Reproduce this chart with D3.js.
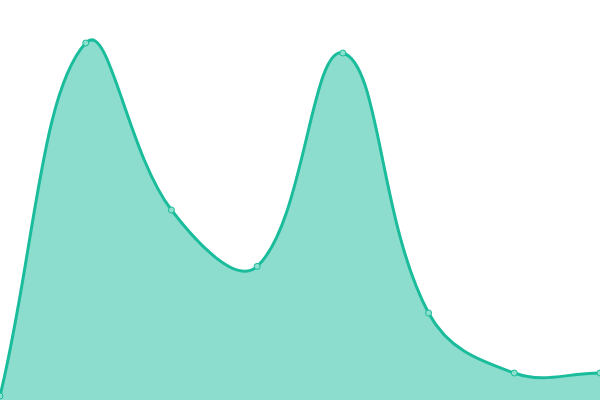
<!DOCTYPE html>
<html><head><meta charset="utf-8">
<script src="https://cdn.jsdelivr.net/npm/d3@7"></script>
<style>html,body{margin:0;padding:0;background:#fff;overflow:hidden}</style>
</head><body>
<svg id="c" width="600" height="400"></svg>
<script>
const categories = [0,1,2,3,4,5,6,7];
const values = [1, 89.25, 47.5, 33.4, 86.75, 21.75, 6.75, 6.75];
const W=600,H=400,tension=0.4;
const svg=d3.select('#c');
const x=d3.scaleLinear().domain([0,categories.length-1]).range([0,W]);
const y=d3.scaleLinear().domain([0,100]).range([H,0]);
const pts=categories.map((c,i)=>({x:x(c),y:y(values[i])}));
// Chart.js-style spline control points
const cps=pts.map((p,i)=>{
  const prev=pts[Math.max(i-1,0)], next=pts[Math.min(i+1,pts.length-1)];
  const d01=Math.hypot(p.x-prev.x,p.y-prev.y), d12=Math.hypot(next.x-p.x,next.y-p.y);
  let s01=d01/(d01+d12), s12=d12/(d01+d12);
  if(isNaN(s01))s01=0; if(isNaN(s12))s12=0;
  const fa=tension*s01, fb=tension*s12;
  const cl=v=>Math.max(0,Math.min(H,v)), cx=v=>Math.max(0,Math.min(W,v));
  return {px:cx(p.x-fa*(next.x-prev.x)),py:cl(p.y-fa*(next.y-prev.y)),
          nx:cx(p.x+fb*(next.x-prev.x)),ny:cl(p.y+fb*(next.y-prev.y))};
});
function linePath(ctx){
  ctx.moveTo(pts[0].x,pts[0].y);
  for(let i=1;i<pts.length;i++){
    ctx.bezierCurveTo(cps[i-1].nx,cps[i-1].ny,cps[i].px,cps[i].py,pts[i].x,pts[i].y);
  }
  return ctx;
}
const lp=linePath(d3.path()).toString();
const ap=d3.path(); linePath(ap); ap.lineTo(pts[pts.length-1].x,H); ap.lineTo(pts[0].x,H); ap.closePath();
svg.append('path').attr('fill','rgba(26,188,156,0.5)').attr('d',ap.toString());
svg.append('path').attr('fill','none').attr('stroke','#1abc9c').attr('stroke-width',3).attr('d',lp);
svg.selectAll('circle').data(pts).enter().append('circle')
  .attr('cx',d=>d.x).attr('cy',d=>d.y).attr('r',3)
  .attr('fill','#8ddfce').attr('stroke','#1abc9c').attr('stroke-width',1);
</script>
</body></html>
